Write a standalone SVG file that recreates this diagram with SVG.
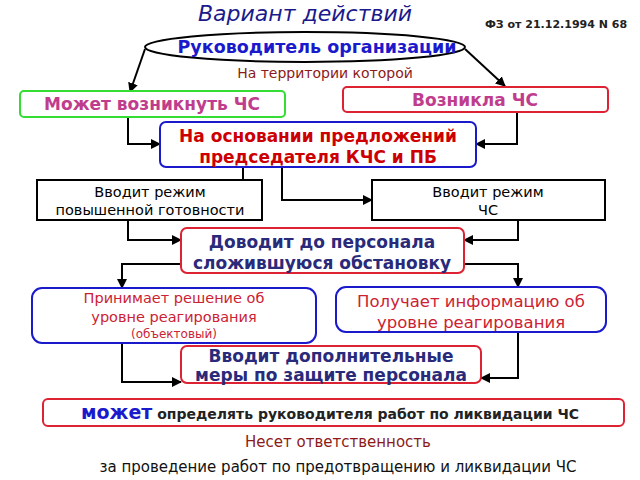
<svg xmlns="http://www.w3.org/2000/svg" width="640" height="480" viewBox="0 0 640 480">
<defs>
<marker id="ar" viewBox="0 0 10 10" refX="9" refY="5" markerWidth="5" markerHeight="5" orient="auto"><path d="M0,0 L10,5 L0,10 z" fill="#000"/></marker>
<style>
text{font-family:"DejaVu Sans","Liberation Sans",sans-serif;text-anchor:middle}
.c{fill:none;stroke:#000;stroke-width:2;marker-end:url(#ar)}
.b{font-weight:bold}
</style>
</defs>
<rect width="640" height="480" fill="#fff"/>
<text x="305" y="21" font-size="22" font-style="italic" fill="#1a1a8c" font-family="Liberation Sans">Вариант действий</text>
<text x="556" y="28" font-size="11" font-weight="bold" fill="#222" font-family="Liberation Sans">ФЗ от 21.12.1994 N 68</text>
<g id="connectors">
<path class="c" d="M145,49 L130,92"/>
<path class="c" d="M465,49 L505,86"/>
<path class="c" d="M128,117 V144 H160"/>
<path class="c" d="M517,112 V144 H476"/>
<path class="c" d="M243,167 V200 H262"/>
<path class="c" d="M282,167 V200 H372"/>
<path class="c" d="M128,220 V240 H181"/>
<path class="c" d="M518,220 V240 H464"/>
<path class="c" d="M181,264 H122 V288"/>
<path class="c" d="M464,264 H518 V287"/>
<path class="c" d="M122,343 V382 H181"/>
<path class="c" d="M518,332 V378 H481"/>
</g>
<g id="n-head"><ellipse cx="305" cy="47" rx="160" ry="15" fill="#fff" stroke="#000" stroke-width="2"/>
<text x="317" y="53" font-size="17.5" class="b" fill="#1a1acc">Руководитель организации</text></g>
<text x="325" y="78" font-size="14" fill="#8c1a1a">На территории которой</text>
<g id="n-may"><rect x="20" y="91" width="265" height="26" rx="4" fill="#fff" stroke="#33dd33" stroke-width="2"/>
<text x="152" y="110" font-size="17" class="b" fill="#c03c8c">Может возникнуть ЧС</text></g>
<g id="n-occ"><rect x="343" y="87" width="265" height="25" rx="4" fill="#fff" stroke="#dd2233" stroke-width="2"/>
<text x="475" y="106" font-size="17" class="b" fill="#c03c8c">Возникла ЧС</text></g>
<g id="n-basis"><rect x="160" y="122" width="316" height="45" rx="6" fill="#fff" stroke="#1a1acc" stroke-width="2"/>
<text x="318" y="142" font-size="17" class="b" fill="#cc0000">На основании предложений</text>
<text x="318" y="163" font-size="17" class="b" fill="#cc0000">председателя КЧС и ПБ</text></g>
<g id="n-alert"><rect x="37" y="180" width="225" height="40" fill="#fff" stroke="#000" stroke-width="2"/>
<text x="150" y="197" font-size="14.5">Вводит режим</text>
<text x="150" y="215" font-size="14.5">повышенной готовности</text></g>
<g id="n-em"><rect x="372" y="180" width="233" height="40" fill="#fff" stroke="#000" stroke-width="2"/>
<text x="488" y="197" font-size="14.5">Вводит режим</text>
<text x="488" y="215" font-size="14.5">ЧС</text></g>
<g id="n-inform"><rect x="181" y="228" width="283" height="45" rx="6" fill="#fff" stroke="#dd2233" stroke-width="2"/>
<text x="322" y="248" font-size="17" class="b" fill="#2a2a7a">Доводит до персонала</text>
<text x="322" y="269" font-size="17" class="b" fill="#2a2a7a">сложившуюся обстановку</text></g>
<g id="n-decide"><rect x="32" y="288" width="284" height="55" rx="10" fill="#fff" stroke="#1a1acc" stroke-width="2"/>
<text x="174" y="303" font-size="14.5" fill="#cc2233">Принимает решение об</text>
<text x="174" y="322" font-size="14.5" fill="#cc2233">уровне реагирования</text>
<text x="174" y="338" font-size="12" fill="#cc2233">(объектовый)</text></g>
<g id="n-receive"><rect x="336" y="287" width="270" height="45" rx="10" fill="#fff" stroke="#1a1acc" stroke-width="2"/>
<text x="471" y="307" font-size="16.5" fill="#cc2233">Получает информацию об</text>
<text x="471" y="328" font-size="16.5" fill="#cc2233">уровне реагирования</text></g>
<g id="n-measures"><rect x="181" y="346" width="300" height="37" rx="6" fill="#fff" stroke="#dd2233" stroke-width="2"/>
<text x="331" y="362" font-size="17" class="b" fill="#2a2a7a">Вводит дополнительные</text>
<text x="331" y="381" font-size="17" class="b" fill="#2a2a7a">меры по защите персонала</text></g>
<g id="n-may2"><rect x="43" y="399" width="581" height="27" rx="5" fill="#fff" stroke="#dd2233" stroke-width="2"/>
<text x="330" y="419" font-family="Liberation Sans" font-weight="bold"><tspan font-size="19" fill="#1a1acc">может</tspan><tspan font-size="14" fill="#222"> определять руководителя работ по ликвидации ЧС</tspan></text></g>
<text x="338" y="447" font-size="15" fill="#8c1a1a" font-family="Liberation Sans">Несет ответственность</text>
<text x="338" y="472" font-size="15" fill="#111">за проведение работ по предотвращению и ликвидации ЧС</text>
</svg>
